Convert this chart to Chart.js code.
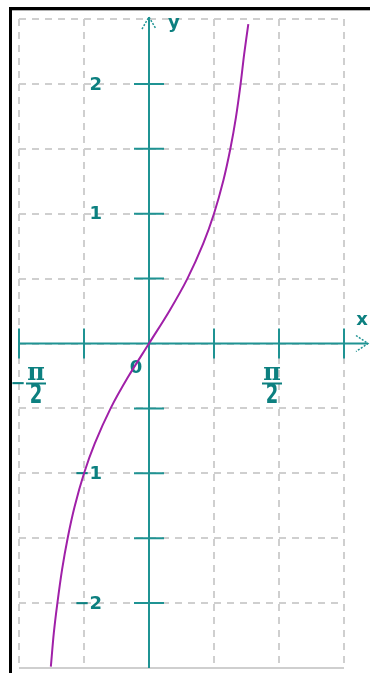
<!DOCTYPE html>
<html>
<head>
<meta charset="utf-8">
<script src="https://cdn.jsdelivr.net/npm/chart.js@4/dist/chart.umd.min.js"></script>
<style>
  html, body { margin: 0; padding: 0; background: #fff; }
  #wrap { position: relative; width: 370px; height: 673px; overflow: hidden; }
  #plot { position: absolute; left: 0; top: 0; }
  /* window frame round the plot */
  #frame { position: absolute; left: 9px; top: 7px; width: 420px; height: 720px;
           border-top: 3px solid #000; border-left: 3px solid #000;
           box-shadow: inset 0 1px 0 #b0b0b0; pointer-events: none; }
</style>
</head>
<body>
<div id="wrap">
  <canvas id="plot" width="370" height="673"></canvas>
  <div id="frame"></div>
</div>
<script>
const PI = Math.PI;

// y = tan x (x in radians)
const curveX = [-1.186, -1.15, -1.107, -1.05, -0.983, -0.90, -0.785, -0.655, -0.464, -0.25, 0,
                0.25, 0.464, 0.655, 0.785, 0.90, 0.983, 1.05, 1.107, 1.15, 1.20];
const curveY = [-2.49, -2.23, -2.0, -1.74, -1.5, -1.26, -1.0, -0.77, -0.5, -0.255, 0,
                0.255, 0.5, 0.77, 1.0, 1.26, 1.5, 1.74, 2.0, 2.23, 2.46];

// grid: quarter pi across, half units up
const xGrid = [-PI / 2, -PI / 4, 0, PI / 4, PI / 2, 3 * PI / 4];
const yGrid = [-2.5, -2, -1.5, -1, -0.5, 0, 0.5, 1, 1.5, 2, 2.5];

// short tick marks on the axes
const xTickMarks = [-PI / 2, -PI / 4, PI / 4, PI / 2, 3 * PI / 4];
const yTickMarks = [-2, -1.5, -1, -0.5, 0.5, 1, 1.5, 2];

// labels
const yLabelValues = [2, 1, -1, -2];
const yLabelText = ['2', '1', '\u22121', '\u22122'];
const xLabelValues = [-PI / 2, PI / 2];
const xLabelSign = ['\u2212', ''];

const axisColor = '#1f9393';
const textColor = '#0d8080';
const curveColor = '#a020a8';
const gridColor = '#cfcfcf';

const font = 'bold 18px "DejaVu Sans"';

const axesPlugin = {
  id: 'axes',
  beforeDatasetsDraw(chart) {
    const c = chart.ctx, area = chart.chartArea;
    const xs = chart.scales.x, ys = chart.scales.y;
    const ox = xs.getPixelForValue(0), oy = ys.getPixelForValue(0);
    c.save();
    c.strokeStyle = axisColor;
    c.lineWidth = 2;
    // axis lines
    c.beginPath();
    c.moveTo(ox, area.top - 2); c.lineTo(ox, area.bottom);
    c.moveTo(area.left, oy); c.lineTo(area.right + 24, oy);
    c.stroke();
    // tick marks
    c.beginPath();
    yTickMarks.forEach(v => { const p = ys.getPixelForValue(v); c.moveTo(ox - 15, p); c.lineTo(ox + 15, p); });
    xTickMarks.forEach(v => { const p = xs.getPixelForValue(v); c.moveTo(p, oy - 15); c.lineTo(p, oy + 15); });
    c.stroke();
    // arrow heads, dotted
    c.lineWidth = 1.5;
    c.setLineDash([2, 1.5]);
    c.beginPath();
    const ty = area.top - 2;
    c.moveTo(ox - 7, ty + 12); c.lineTo(ox, ty); c.lineTo(ox + 7, ty + 12);
    const tx = area.right + 24;
    c.moveTo(tx - 12, oy - 8); c.lineTo(tx, oy); c.lineTo(tx - 12, oy + 8);
    c.stroke();
    c.setLineDash([]);

    // labels
    c.fillStyle = textColor;
    c.font = font;
    c.textBaseline = 'middle';
    c.textAlign = 'left';
    c.fillText('y', ox + 19, ty + 6);
    c.textAlign = 'center';
    c.fillText('x', tx - 6, oy - 23);
    c.fillText('0', ox - 13, oy + 25);
    c.textAlign = 'right';
    yLabelValues.forEach((v, i) => {
      c.fillText(yLabelText[i], ox - 47, ys.getPixelForValue(v) + 1);
    });
    // pi / 2 fractions under the x axis
    xLabelValues.forEach((v, i) => {
      const p = xs.getPixelForValue(v);
      const cx = v < 0 ? p + 17 : p - 7;
      c.textAlign = 'center';
      c.font = 'bold 24px "DejaVu Serif"';
      c.fillText('\u03c0', cx, oy + 30);
      c.fillRect(cx - 10, oy + 39, 20, 2);
      c.save();
      c.translate(cx, oy + 53);
      c.scale(1, 1.45);
      c.font = font;
      c.fillText('2', 0, 0);
      c.restore();
      if (xLabelSign[i]) {
        c.font = font;
        c.fillText(xLabelSign[i], cx - 18, oy + 41);
      }
    });
    c.restore();
  }
};

new Chart(document.getElementById('plot'), {
  type: 'scatter',
  data: {
    datasets: [{
      data: curveX.map((x, i) => ({ x: x, y: curveY[i] })),
      showLine: true,
      borderColor: curveColor,
      borderWidth: 2,
      pointRadius: 0,
      tension: 0.3,
      fill: false
    }]
  },
  options: {
    responsive: false,
    animation: false,
    layout: { padding: { left: 19, top: 19, right: 26, bottom: 5 } },
    plugins: { legend: { display: false }, tooltip: { enabled: false } },
    scales: {
      x: {
        type: 'linear',
        min: -PI / 2,
        max: 3 * PI / 4,
        afterBuildTicks: s => { s.ticks = xGrid.map(v => ({ value: v })); },
        afterFit: s => { s.height = 0; },
        ticks: { display: false },
        grid: { color: gridColor, lineWidth: 2, drawTicks: false },
        border: { display: false, dash: [7, 6] }
      },
      y: {
        type: 'linear',
        min: -2.5,
        max: 2.5,
        afterBuildTicks: s => { s.ticks = yGrid.map(v => ({ value: v })); },
        afterFit: s => { s.width = 0; },
        ticks: { display: false },
        grid: { color: gridColor, lineWidth: 2, drawTicks: false },
        border: { display: false, dash: ctx => ctx.index === 0 ? [] : [7, 6] }
      }
    }
  },
  plugins: [axesPlugin]
});
</script>
</body>
</html>
